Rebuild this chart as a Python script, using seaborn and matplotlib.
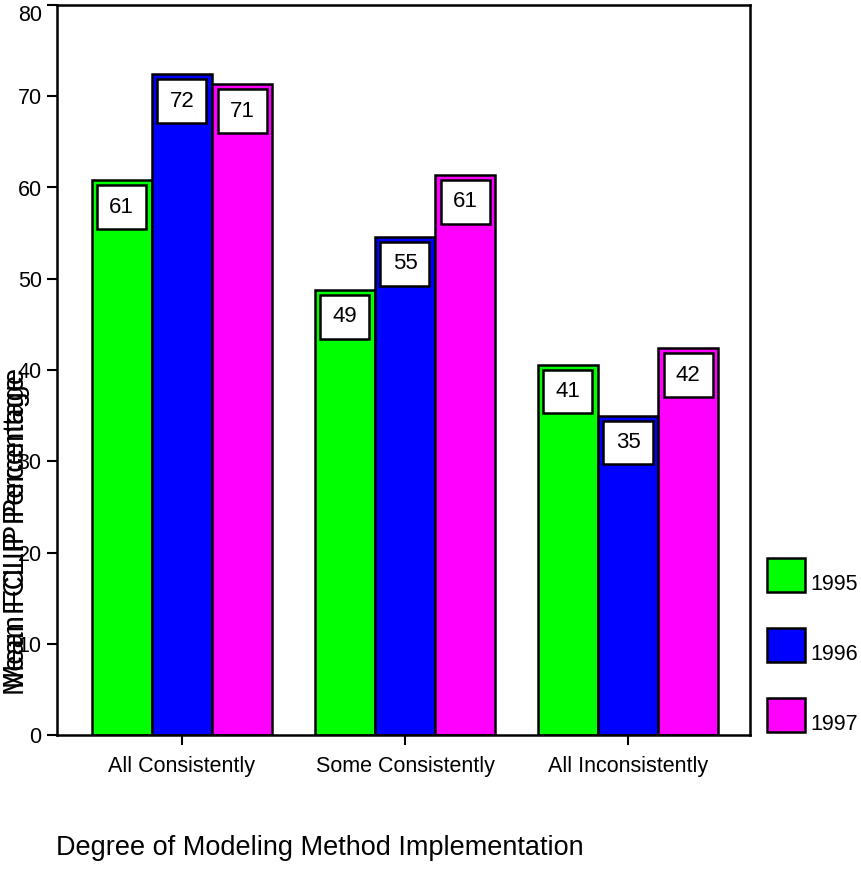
import matplotlib
matplotlib.use("Agg")
import matplotlib.pyplot as plt
from matplotlib.patches import Rectangle
import seaborn as sns
import pandas as pd

# Mean FCLIP percentage by degree of modeling method implementation
categories = ["All Consistently", "Some Consistently", "All Inconsistently"]
years = ["1995", "1996", "1997"]
values_1995 = [60.8, 48.8, 40.6]
values_1996 = [72.4, 54.6, 35.0]
values_1997 = [71.3, 61.4, 42.4]
y_ticks = [0, 10, 20, 30, 40, 50, 60, 70, 80]
colors = ["#00FF00", "#0000FF", "#FF00FF"]

rows = []
for year, vals in zip(years, [values_1995, values_1996, values_1997]):
    for cat, v in zip(categories, vals):
        rows.append({"category": cat, "year": year, "value": v})
df = pd.DataFrame(rows)

sns.set_style("ticks")
plt.rcParams["font.family"] = ["Liberation Sans", "DejaVu Sans"]
plt.rcParams["text.color"] = "black"

W, H = 862, 871
fig = plt.figure(figsize=(W / 100, H / 100), dpi=100)
ax = fig.add_axes([57 / W, 136 / H, 693 / W, 730 / H])

sns.barplot(data=df, x="category", y="value", hue="year", order=categories,
            hue_order=years, palette=colors, saturation=1, width=0.81,
            edgecolor="black", linewidth=1.8, errorbar=None, legend=False, ax=ax)

ax.set_xlim(-0.56, 2.547)
ax.set_ylim(0, 80)
ax.set_yticks(y_ticks)
ax.set_xlabel("")
ax.set_ylabel("")
for s in ax.spines.values():
    s.set_visible(True)
    s.set_linewidth(1.8)
    s.set_color("black")
ax.tick_params(axis="y", length=7, width=1.5, labelsize=15.5, pad=4,
               colors="black", labelcolor="black")
ax.tick_params(axis="x", length=7, width=1.5, labelsize=15.5, pad=8,
               colors="black", labelcolor="black")
# keep the top tick label inside the figure
ax.get_yticklabels()[-1].set_va("top")

# value boxes inside the top of each bar
for p in ax.patches:
    h = p.get_height()
    cx = p.get_x() + p.get_width() / 2
    bw, bh = 0.22, 4.8
    top = h - 0.55
    ax.add_patch(Rectangle((cx - bw / 2, top - bh), bw, bh, facecolor="white",
                           edgecolor="black", linewidth=1.8, zorder=5))
    ax.text(cx, top - bh / 2, f"{h:.0f}", ha="center", va="center",
            fontsize=16, color="black", zorder=6)

# axis titles
fig.text(16 / W, 1 - 535 / H, "Mean FCLIP Percentage", rotation=90,
         ha="center", va="center", fontsize=21)
fig.text(16 / W, 1 - 528 / H, "Mean FCLIP Percentage", rotation=90,
         ha="center", va="center", fontsize=21)
fig.text(320 / W, 1 - 848 / H, "Degree of Modeling Method Implementation",
         ha="center", va="center", fontsize=19.5)

# legend
legend_tops = [558, 628, 698]
for year, color, top in zip(years, colors, legend_tops):
    fig.add_artist(Rectangle((767 / W, 1 - (top + 34) / H), 38 / W, 34 / H,
                             transform=fig.transFigure, facecolor=color,
                             edgecolor="black", linewidth=1.8))
    fig.text(810 / W, 1 - (top + 26) / H, year, ha="left", va="center",
             fontsize=15.5)

fig.savefig("out.png", dpi=100)
